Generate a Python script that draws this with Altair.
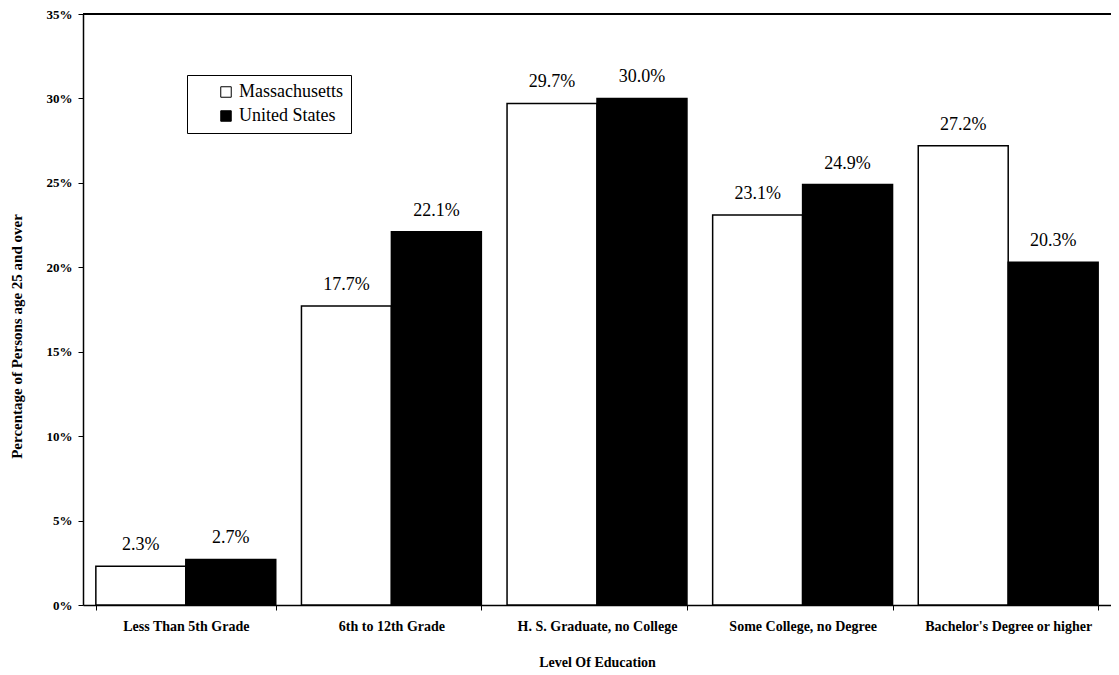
import altair as alt
import pandas as pd

categories = ["Less Than 5th Grade", "6th to 12th Grade", "H. S. Graduate, no College",
              "Some College, no Degree", "Bachelor's Degree or higher"]
series = ["Massachusetts", "United States"]
massachusetts = [2.3, 17.7, 29.7, 23.1, 27.2]
united_states = [2.7, 22.1, 30.0, 24.9, 20.3]
y_ticks = [0, 5, 10, 15, 20, 25, 30, 35]

rows = []
for c, m, u in zip(categories, massachusetts, united_states):
    rows.append({"level": c, "area": series[0], "pct": m})
    rows.append({"level": c, "area": series[1], "pct": u})
df = pd.DataFrame(rows)

SERIF = "Liberation Serif"

x_enc = alt.X("level:N", sort=categories,
              scale=alt.Scale(paddingInner=0.125, paddingOuter=0.0625),
              axis=alt.Axis(title="Level Of Education", labelAngle=0, tickBand="extent",
                            tickSize=5, labelPadding=9, titlePadding=22,
                            labelFont=SERIF, labelFontSize=14, labelFontWeight="bold",
                            titleFont=SERIF, titleFontSize=14, titleFontWeight="bold",
                            labelColor="black", titleColor="black", domainColor="black",
                            tickColor="black", domainWidth=1.5, labelLimit=300))
y_enc = alt.Y("pct:Q", scale=alt.Scale(domain=[0, 35], nice=False),
              axis=alt.Axis(title="Percentage of Persons age 25 and over", values=y_ticks,
                            labelExpr="datum.value + '%'", grid=False, tickSize=5,
                            labelPadding=6, titlePadding=22, titleY=322,
                            labelFont=SERIF, labelFontSize=13, labelFontWeight="bold",
                            titleFont=SERIF, titleFontSize=15, titleFontWeight="bold",
                            labelColor="black", titleColor="black", domainColor="black",
                            tickColor="black", domainWidth=1.5))
xo = alt.XOffset("area:N", sort=series)

bars = alt.Chart().mark_bar(stroke="black", strokeWidth=1.5).encode(
    x=x_enc, y=y_enc, xOffset=xo,
    fill=alt.Fill("area:N", sort=series,
                  scale=alt.Scale(domain=series, range=["white", "black"]),
                  legend=alt.Legend(title=None, orient="none", legendX=104, legendY=61,
                                    strokeColor="black", fillColor="white", padding=8,
                                    symbolType="square", symbolSize=110,
                                    symbolStrokeColor="black", symbolStrokeWidth=1,
                                    symbolOffset=22, labelFont=SERIF, labelFontSize=18,
                                    labelColor="black", rowPadding=6, labelLimit=300)),
)

text = alt.Chart().transform_calculate(
    label="format(datum.pct, '.1f') + '%'"
).mark_text(baseline="bottom", dy=-12, font=SERIF, fontSize=18, color="black").encode(
    x=alt.X("level:N", sort=categories), y="pct:Q", xOffset=xo, text="label:N"
)

top_rule = alt.Chart().mark_rule(color="black", strokeWidth=2).encode(y=alt.datum(35))

chart = alt.layer(bars, text, top_rule, data=df).properties(
    width=1028, height=591,
    autosize=alt.AutoSizeParams(type="none"),
    padding={"left": 75, "top": 6, "right": 0, "bottom": 68},
).configure_view(stroke=None).configure(background="white")

chart.save("out.html", embed_options={"renderer": "svg", "actions": False})
